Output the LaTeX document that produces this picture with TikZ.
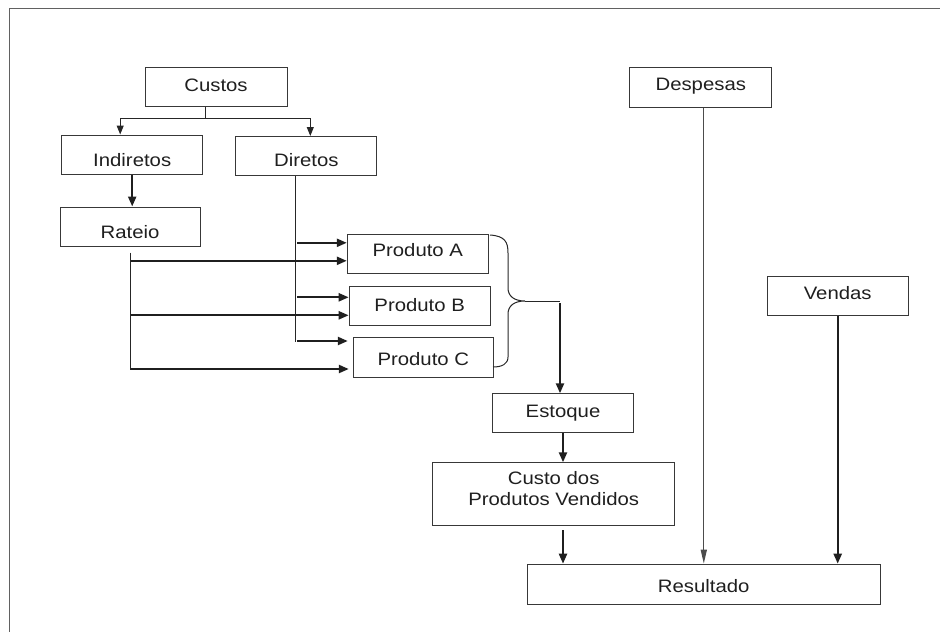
\documentclass[tikz,border=0pt]{standalone}
\usepackage{fontspec}
\setmainfont{Liberation Sans}[FakeStretch=1.13]
\usetikzlibrary{arrows.meta,calc}
\begin{document}
\begin{tikzpicture}[x=1pt,y=-1pt,
  box/.style={draw=black!78,line width=1pt,inner sep=0pt,
    minimum width=141pt,minimum height=39pt,
    font=\fontsize{18}{21}\selectfont,text=black!88,
    text height=13pt,text depth=3pt},
  thinline/.style={draw=black!85,line width=1pt},
  thinarr/.style={draw=black!85,line width=1pt,-{Triangle[length=9pt,width=7pt]}},
  longarr/.style={draw=black!70,line width=1.3pt,-{Triangle[length=14pt,width=6pt]}},
  thickarr/.style={draw=black!88,line width=2.2pt,-{Triangle[length=10pt,width=8pt]}},
]
\useasboundingbox (0,0) rectangle (940,632);
% frame
\draw[black!62,line width=1.6pt] (9.5,632) -- (9.5,8.5) -- (940,8.5);

% nodes
\node[box,minimum width=142pt,text height=13pt] (custos) at (216,86.5) {Custos};
\node[box,text height=26pt] (indiretos) at (132.2,154.5) {Indiretos};
\node[box,text height=23pt] (diretos) at (306.3,156) {Diretos};
\node[box,minimum width=140pt,text height=27pt] (rateio) at (130,226.5) {Rateio};
\node[box,text height=9pt] (prodA) at (417.8,253.8) {Produto A};
\node[box,text height=12.4pt] (prodB) at (419.7,306.3) {Produto B};
\node[box,minimum width=140pt,minimum height=39.6pt,text height=19.4pt] (prodC) at (423.3,357.5) {Produto C};
\node[box,text height=11pt] (estoque) at (563,413.3) {Estoque};
\node[box,minimum width=242pt,minimum height=63pt,align=center,text height=,text depth=] (cpv) at (553.7,494.3)
  {Custo dos\\Produtos Vendidos\rule[-11pt]{0pt}{11pt}};
\node[box,minimum width=353pt,minimum height=40pt,text height=19pt] (resultado) at (703.7,584.2) {Resultado};
\node[box,minimum width=142pt,minimum height=40pt,text height=9.4pt] (despesas) at (700.8,87.5) {Despesas};
\node[box,text height=9pt] (vendas) at (837.7,296.2) {Vendas};

% Custos branches
\coordinate (br) at ($(custos.south)+(-11,12)$);
\draw[thinline] ([xshift=-11pt]custos.south) -- (br);
\draw[thinarr] (br) -| ([xshift=-12pt]indiretos.north);
\draw[thinarr] (br) -| ([xshift=4pt]diretos.north);

% Indiretos -> Rateio
\draw[thickarr] (indiretos.south) -- (indiretos.south |- rateio.north);

% Diretos distribution
\coordinate (dtop) at ([xshift=-11pt]diretos.south);
\draw[thinline] (dtop) -- ++(0,166);
\draw[thickarr] ($(dtop |- prodA.west)+(2,-11)$) -- ([yshift=11pt]prodA.west);
\draw[thickarr] ($(dtop |- prodB.west)+(2,-9)$) -- ([yshift=9pt]prodB.west);
\draw[thickarr] ($(dtop |- prodC.west)+(2,-16.5)$) -- ([xshift=-5pt,yshift=16.5pt]prodC.west);

% Rateio distribution
\coordinate (rtop) at ([yshift=-6pt]rateio.south);
\draw[thinline] (rtop) -- ++(0,117);
\draw[thickarr] ($(rtop |- prodA.west)+(1,7)$) -- ([yshift=-7pt]prodA.west);
\draw[thickarr] ($(rtop |- prodB.west)+(1,9)$) -- ([yshift=-9pt]prodB.west);
\draw[thickarr] ($(rtop |- prodC.west)+(1,11.5)$) -- ([xshift=-4pt,yshift=-11.5pt]prodC.west);

% brace
\coordinate (tip) at (525,301);
\draw[thinline] (490,235) .. controls (505,236) and (508,242) .. (508,253) -- (508,288)
  .. controls (508,296) and (514,301) .. (tip)
  .. controls (514,301) and (508,306) .. (508,314) -- (508,357)
  .. controls (508,364) and (502,367) .. (493,367);
\draw[thinline] (tip) -- ++(35,0) coordinate (bend);
\draw[thickarr] ($(bend)+(0,2)$) -- (bend |- estoque.north);

% Estoque -> CPV -> Resultado
\draw[thickarr] (estoque.south) -- (estoque.south |- cpv.north);
\draw[thickarr] ($(cpv.south -| estoque.south)+(0,4)$) -- (estoque.south |- resultado.north);

% Despesas, Vendas -> Resultado
\coordinate (ds) at ($(despesas.south)+(3,0)$);
\draw[longarr] (ds) -- (ds |- resultado.north);
\draw[thickarr] (vendas.south) -- (vendas.south |- resultado.north);
\end{tikzpicture}
\end{document}
